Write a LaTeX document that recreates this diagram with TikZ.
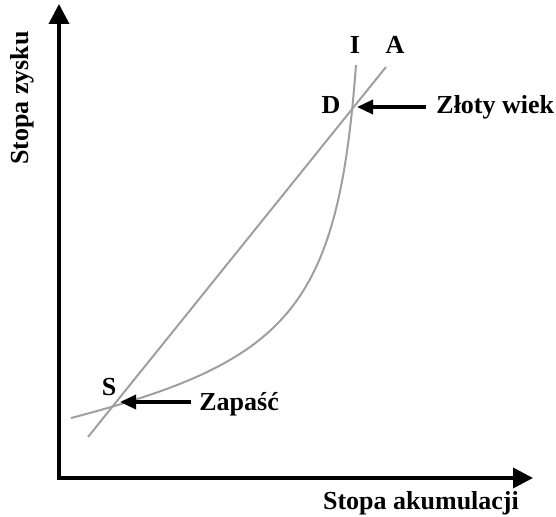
\documentclass[tikz,border=0pt]{standalone}
\usepackage{fontspec}
\setmainfont{Liberation Serif}
\usetikzlibrary{arrows.meta}
\tikzset{
  axisline/.style={line width=1.8pt, -{Triangle[length=10pt, width=10pt]}},
  curveline/.style={gray!75, line width=1pt},
  pointer/.style={line width=1.7pt, -{Triangle[length=8pt, width=7pt]}},
  lbl/.style={font=\fontsize{13}{15}\selectfont\bfseries, inner sep=1pt},
}
\begin{document}
\begin{tikzpicture}[x=0.5pt, y=0.5pt]
    \useasboundingbox (0,0) rectangle (556,517);
    % axes
    \coordinate (origin) at (59,39);
    \coordinate (ytop) at (59,513);
    \coordinate (xend) at (533,39);
    \draw[axisline] ([yshift=-0.9pt]origin) -- (ytop);
    \draw[axisline] ([xshift=-0.9pt]origin) -- (xend);
    \node[lbl, rotate=90] (ylab) at (22,419) {Stopa zysku};
    \node[lbl] (xlab) at (421,14) {Stopa akumulacji};
    % line A and curve I
    \coordinate (S) at (118,115);
    \coordinate (D) at (355,410);
    \draw[curveline] (88,80) -- (386,450);
    \draw[curveline] (71,99) .. controls (290,156) and (338,210) .. (356,452);
    \node[lbl] (Ilab) at (355,472) {I};
    \node[lbl] (Alab) at (395,472) {A};
    \node[lbl] (Dlab) at (331,412) {D};
    \node[lbl] (Slab) at (109,130) {S};
    % pointers
    \node[lbl, anchor=west] (zloty) at (434,410) {Złoty wiek};
    \draw[pointer] ([xshift=-4pt]zloty.west |- D) -- ([xshift=1pt]D);
    \node[lbl, anchor=west] (zapasc) at (197,113) {Zapaść};
    \draw[pointer] ([xshift=-3pt]zapasc.west |- S) -- ([xshift=1pt]S);
\end{tikzpicture}
\end{document}
